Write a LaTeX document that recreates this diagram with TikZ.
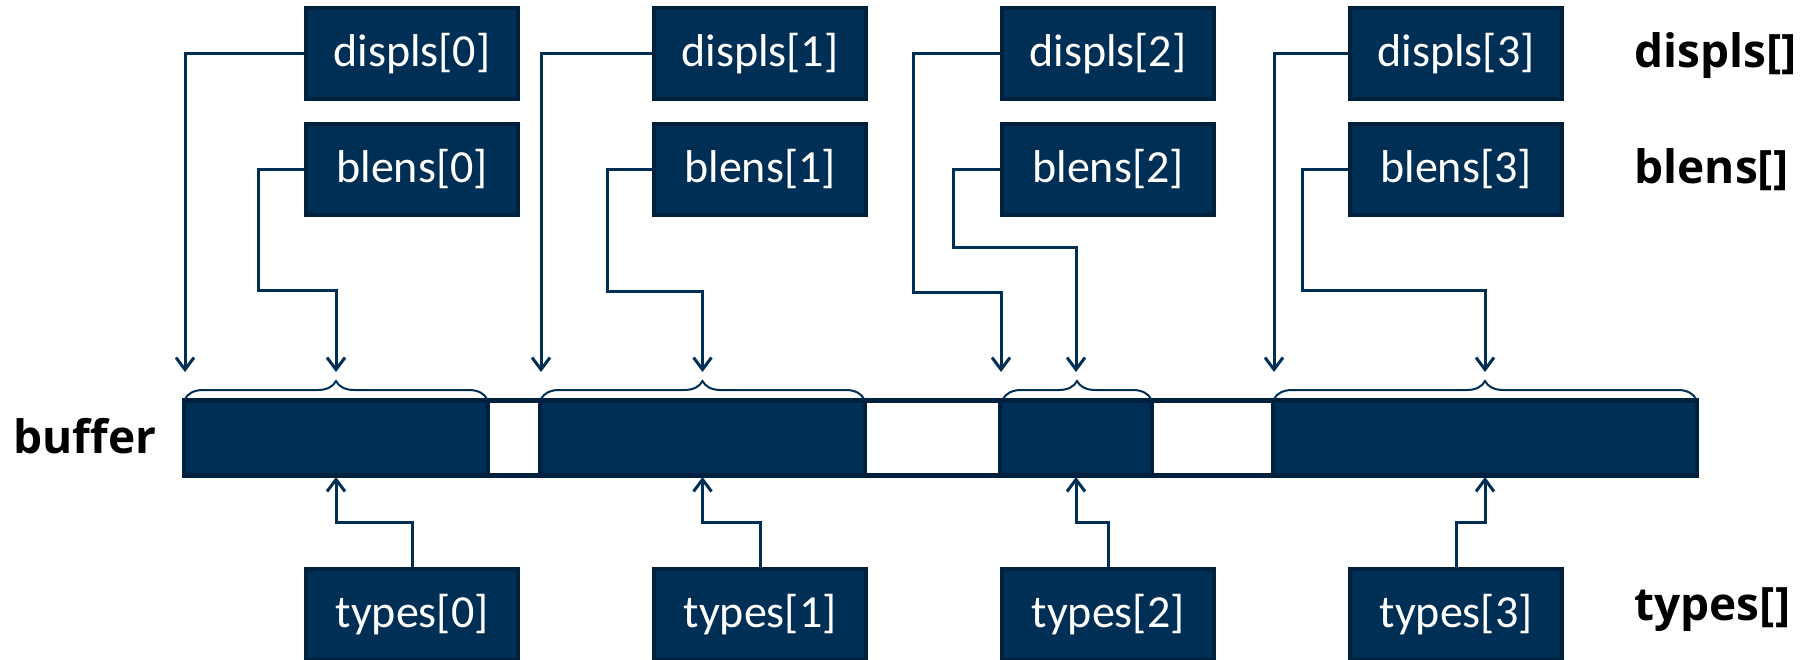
\documentclass[tikz,border=0pt]{standalone}
\usepackage{fontspec}
\setmainfont{Carlito}
\newfontfamily\labelfont{Open Sans}
\usepackage{tikz}
\usetikzlibrary{arrows.meta,decorations.pathreplacing}
\definecolor{navy}{RGB}{0,47,86}
\definecolor{navydark}{RGB}{0,33,62}

\begin{document}
\begin{tikzpicture}[x=1pt,y=-1pt,>={Straight Barb[length=12pt,width=18pt]},
                    node distance=348pt,line width=3pt]
  \tikzstyle{box}=[draw=navydark,fill=navy,line width=4pt,text=white,inner sep=0pt,
                   minimum width=212pt,minimum height=91pt,font=\fontsize{46}{55}\selectfont]
  \tikzstyle{blk}=[draw=navydark,fill=navy,line width=4pt,inner sep=0pt,minimum height=74pt]
  \tikzstyle{title}=[font=\labelfont\bfseries\fontsize{46}{55}\selectfont,inner sep=0pt]
  \tikzstyle{wire}=[draw=navy,line width=3pt,->]
  \tikzstyle{brc}=[draw=navy,line width=2pt,decorate,decoration={brace,amplitude=18pt}]

  \useasboundingbox (0,0) rectangle (1807,659);

  % the buffer and its filled pieces
  \node[draw=navydark,line width=5pt,inner sep=0pt,minimum width=1512pt,
        minimum height=75pt] (buf) at (940.5,438) {};
  \node[blk,minimum width=304pt] (K0) at (336,438) {};
  \node[blk,minimum width=325pt] (K1) at (702.5,438) {};
  \node[blk,minimum width=152pt] (K2) at (1076,438) {};
  \node[blk,minimum width=424pt] (K3) at (1485,438) {};

  \draw[brc] ([xshift=3pt]K0.north west) -- ([xshift=-3pt]K0.north east);
  \draw[brc] ([xshift=3pt]K1.north west) -- ([xshift=-3pt]K1.north east);
  \draw[brc] ([xshift=5pt]K2.north west) -- ([xshift=-3pt]K2.north east);
  \draw[brc] ([xshift=3pt]K3.north west) -- ([xshift=-3pt]K3.north east);

  \node[box] (D0) at (412,53.5) {displs[0]};
  \node[box] (D1) [right of=D0] {displs[1]};
  \node[box] (D2) [right of=D1] {displs[2]};
  \node[box] (D3) [right of=D2] {displs[3]};

  \node[box] (B0) at (412,169.5) {blens[0]};
  \node[box] (B1) [right of=B0] {blens[1]};
  \node[box] (B2) [right of=B1] {blens[2]};
  \node[box] (B3) [right of=B2] {blens[3]};

  \node[box] (T0) at (412,614.5) {types[0]};
  \node[box] (T1) [right of=T0] {types[1]};
  \node[box] (T2) [right of=T1] {types[2]};
  \node[box] (T3) [right of=T2] {types[3]};

  \node[title,anchor=east] (lbuf) at (158,436) {buffer};
  \node[title,anchor=base west] (ldis) at (1633,67) {displs[]};
  \node[title,anchor=base west] (lbl) at (1633,183) {blens[]};
  \node[title,anchor=base west] (lty) at (1633,620) {types[]};

  % displacements
  \draw[wire] (D0.west) -| ([xshift=3pt,yshift=27pt]K0.north west);
  \draw[wire] (D1.west) -| ([xshift=3pt,yshift=27pt]K1.north west);
  \draw[wire] (D2.west) -| (913,292) -| ([xshift=3pt,yshift=27pt]K2.north west);
  \draw[wire] (D3.west) -| ([xshift=3pt,yshift=27pt]K3.north west);

  % block lengths
  \draw[wire] (B0.west) -| (258,290) -| ([yshift=27pt]K0.north);
  \draw[wire] (B1.west) -| (607,291) -| ([yshift=27pt]K1.north);
  \draw[wire] (B2.west) -| (953,247) -| ([yshift=27pt]K2.north);
  \draw[wire] (B3.west) -| (1302,290) -| ([yshift=27pt]K3.north);

  % types
  \draw[wire] (T0.north) -- ++(0,-45) -| (K0.south);
  \draw[wire] (T1.north) -- ++(0,-45) -| (K1.south);
  \draw[wire] (T2.north) -- ++(0,-45) -| (K2.south);
  \draw[wire] (T3.north) -- ++(0,-45) -| (K3.south);
\end{tikzpicture}
\end{document}
